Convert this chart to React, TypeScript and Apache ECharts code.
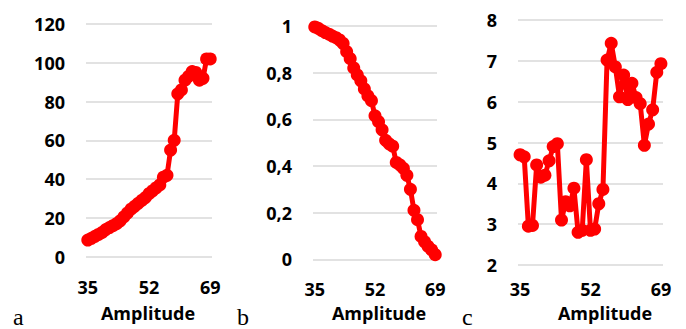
import React, { useEffect, useRef } from "react";
import * as echarts from "echarts";

const amplitudes: string[] = [];
for (let a = 35; a <= 69; a++) amplitudes.push(String(a));

const seriesA = [
  8.6, 9.5, 10.5, 11.5, 12.5, 14, 15, 16, 17, 18.5, 20.5, 22.5, 24.5, 26, 27.5, 29, 30.5,
  32.5, 34, 35.5, 37, 41, 42, 55, 60, 84, 86, 91, 93, 95.5, 95, 91, 92, 102, 102,
];
const seriesB = [
  0.996, 0.99, 0.98, 0.972, 0.965, 0.957, 0.95, 0.94, 0.925, 0.89, 0.86, 0.82, 0.79, 0.765,
  0.73, 0.7, 0.68, 0.615, 0.59, 0.555, 0.51, 0.495, 0.485, 0.415, 0.405, 0.39, 0.36, 0.3,
  0.21, 0.17, 0.098, 0.075, 0.055, 0.04, 0.02,
];
const seriesC = [
  4.7, 4.65, 2.95, 2.97, 4.45, 4.15, 4.2, 4.55, 4.9, 4.97, 3.1, 3.55, 3.45, 3.88, 2.8, 2.85,
  4.58, 2.85, 2.88, 3.5, 3.85, 7.02, 7.43, 6.85, 6.12, 6.65, 6.05, 6.45, 6.1, 5.95, 4.93,
  5.45, 5.8, 6.72, 6.93,
];

const panelLetters = ["a", "b", "c"];
const xTitle = "Amplitude";

const FONT = "'Open Sans', 'Noto Sans', sans-serif";

export default function App() {
  const ref = useRef<HTMLDivElement>(null);
  useEffect(() => {
    if (!ref.current) return;
    const chart = echarts.init(ref.current, null, { renderer: "svg" });
    const W = 686;
    const H = 329;
    const grids = [
      { left: 86, right: W - 212, top: 24, bottom: H - 256.7 },
      { left: 313, right: W - 437, top: 26, bottom: H - 259.3 },
      { left: 518, right: W - 663, top: 20, bottom: H - 265 },
    ];
    const yDefs = [
      { min: 0, max: 120, interval: 20, fmt: (v: number) => String(v) },
      { min: 0, max: 1, interval: 0.2, fmt: (v: number) => String(Math.round(v * 10) / 10).replace(".", ",") },
      { min: 2, max: 8, interval: 1, fmt: (v: number) => String(v) },
    ];
    const data = [seriesA, seriesB, seriesC];
    const labelStyle = { fontFamily: FONT, fontWeight: "bold" as const, fontSize: 18, color: "#000" };
    const option: any = {
      animation: false,
      grid: grids.map((g) => ({ ...g, containLabel: false })),
      xAxis: grids.map((_, i) => ({
        type: "category",
        gridIndex: i,
        data: amplitudes,
        boundaryGap: true,
        axisLine: { show: false },
        axisTick: { show: false },
        splitLine: { show: false },
        axisLabel: i === 2
          ? { ...labelStyle, interval: 16, margin: 17, lineHeight: 13 }
          : { ...labelStyle, interval: 16, margin: 21 },
      })),
      yAxis: yDefs.map((d, i) => ({
        type: "value",
        gridIndex: i,
        min: d.min,
        max: d.max,
        interval: d.interval,
        axisLine: { show: false },
        axisTick: { show: false },
        splitLine: { show: true, lineStyle: { color: "#d9d9d9", width: 1.5 } },
        axisLabel: { ...labelStyle, margin: 21, formatter: d.fmt },
      })),
      series: data.map((arr, i) => ({
        type: "line",
        xAxisIndex: i,
        yAxisIndex: i,
        data: arr,
        symbol: "circle",
        symbolSize: 13,
        showSymbol: true,
        showAllSymbol: true,
        lineStyle: { color: "#ff0000", width: 5 },
        itemStyle: { color: "#ff0000" },
      })),
      graphic: [
        ...[148, 379, 605].map((x, i) => ({
          type: "text",
          x,
          y: i === 2 ? 312.5 : 313,
          style: {
            text: xTitle,
            font: `bold 18px ${FONT}`,
            lineHeight: i === 2 ? 14 : 20,
            fill: "#000",
            textAlign: "center",
            textVerticalAlign: "middle",
          },
        })),
        ...[13, 237, 462].map((x, i) => ({
          type: "text",
          x,
          y: 329,
          style: {
            text: panelLetters[i],
            font: `24px 'Liberation Serif', 'DejaVu Serif', serif`,
            fill: "#000",
            textAlign: "left",
            textVerticalAlign: "bottom",
          },
        })),
      ],
    };
    chart.setOption(option);
    return () => chart.dispose();
  }, []);
  return (
    <div
      ref={ref}
      style={{ position: "fixed", left: 0, top: 0, width: 686, height: 329, background: "#fff" }}
    />
  );
}
